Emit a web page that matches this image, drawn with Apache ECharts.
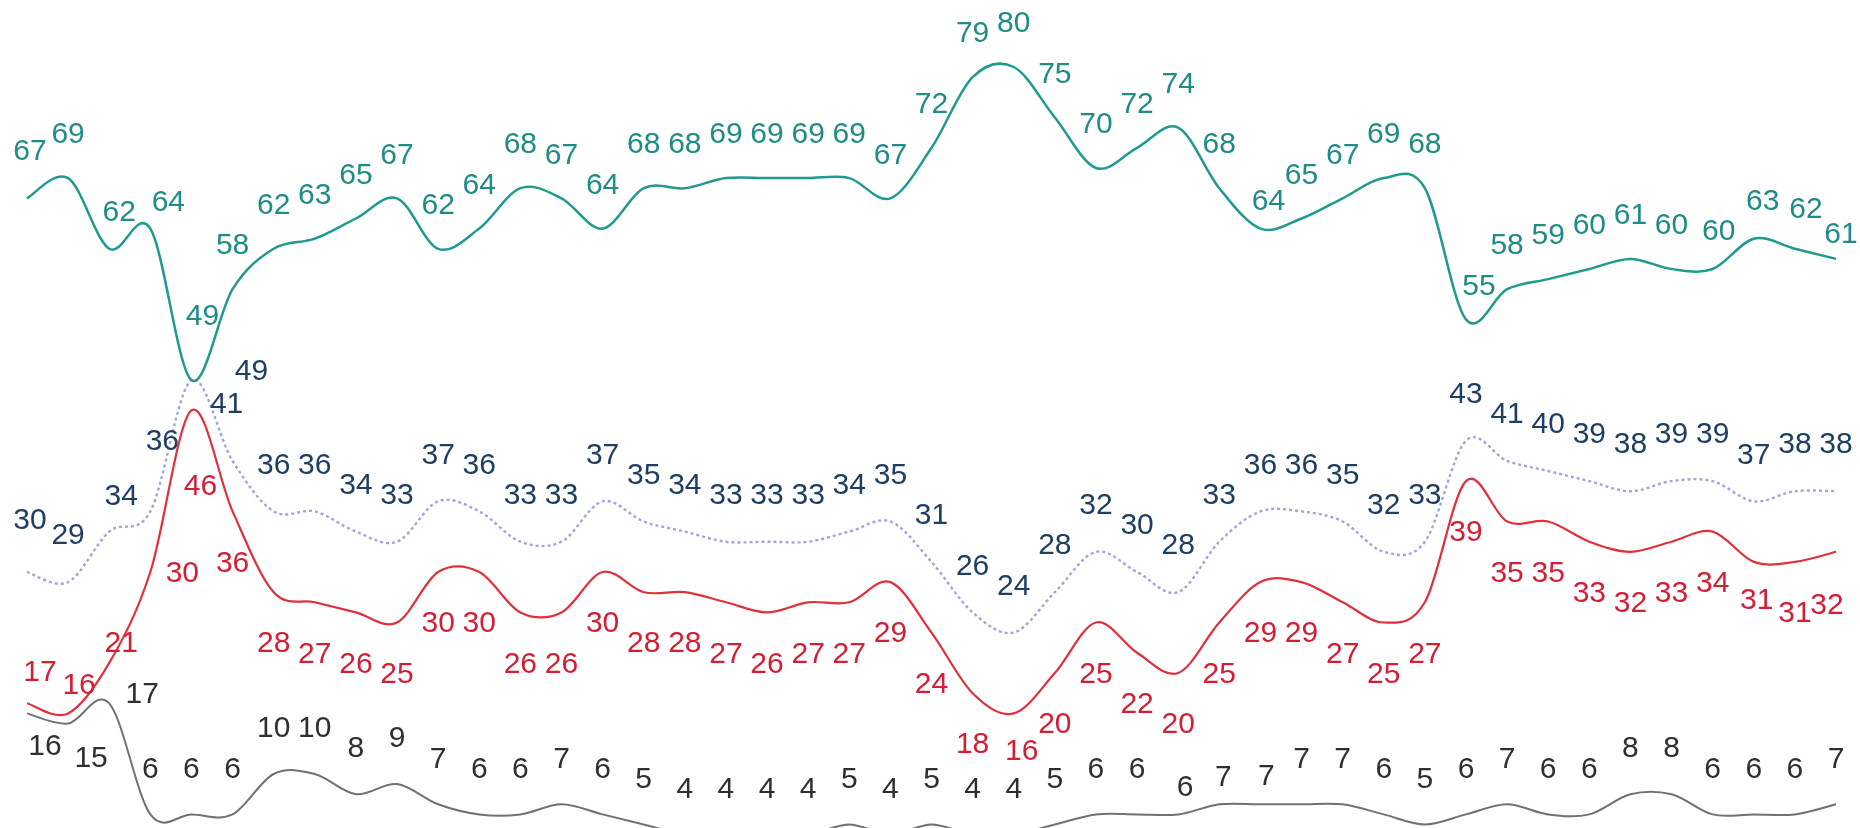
<!DOCTYPE html>
<html>
<head>
<meta charset="utf-8">
<script src="https://cdn.jsdelivr.net/npm/echarts@6/dist/echarts.min.js"></script>
<style>
html,body{margin:0;padding:0;background:#ffffff;}
#chart{width:1860px;height:828px;}
</style>
</head>
<body>
<div id="chart"></div>
<script>
// ---- data ----
const categories = [1,2,3,4,5,6,7,8,9,10,11,12,13,14,15,16,17,18,19,20,21,22,23,24,25,26,27,28,29,30,31,32,33,34,35,36,37,38,39,40,41,42,43,44,45];
const tealValues = [67,69,62,64,49,58,62,63,65,67,62,64,68,67,64,68,68,69,69,69,69,67,72,79,80,75,70,72,74,68,64,65,67,69,68,55,58,59,60,61,60,60,63,62,61];
const blueValues = [30,29,34,36,49,41,36,36,34,33,37,36,33,33,37,35,34,33,33,33,34,35,31,26,24,28,32,30,28,33,36,36,35,32,33,43,41,40,39,38,39,39,37,38,38];
const redValues  = [17,16,21,30,46,36,28,27,26,25,30,30,26,26,30,28,28,27,26,27,27,29,24,18,16,20,25,22,20,25,29,29,27,25,27,39,35,35,33,32,33,34,31,31,32];
const grayValues = [16,15,17,6,6,6,10,10,8,9,7,6,6,7,6,5,4,4,4,4,5,4,5,4,4,5,6,6,6,7,7,7,7,6,5,6,7,6,6,8,8,6,6,6,7];

// ---- label placement (styling only) ----
const tealLabelDefault = [0,-43];
const tealLabelShift = {0:[3,-47],2:[10,-36],3:[18,-26],4:[11,-63],30:[8,-27],35:[13,-33],41:[6,-37],42:[9,-37],43:[11,-39],44:[5,-24]};
const blueLabelDefault = [0,-46];
const blueLabelShift = {0:[3,-51],2:[12,-35],3:[12,-70],4:[60,-8],5:[-6,-56]};
const redLabelDefault = [0,52];
const redLabelShift = {0:[13,-31],1:[11,-28],2:[12,-19],3:[32,2],4:[9,76],24:[8,38],42:[3,39],44:[-9,54]};
const grayLabelDefault = [0,-45];
const grayLabelShift = {0:[18,33],1:[23,35],2:[33,-9],28:[7,-27],29:[4,-27],30:[6,-28]};

const LABEL_FONT = '30px "Liberation Sans", Arial, sans-serif';

function makeRenderer(values, lineColor, width, dash, labelColor, def, shifts) {
  return function (params, api) {
    const i = params.dataIndex;
    const p = api.coord([i, values[i]]);
    const off = shifts[i] || def;
    const children = [];
    if (i === 0) {
      const pts = values.map(function (v, k) { return api.coord([k, v]); });
      let d = 'M' + pts[0][0] + ' ' + pts[0][1];
      for (let k = 0; k < pts.length - 1; k++) {
        const p0 = pts[k - 1] || pts[k];
        const p1 = pts[k];
        const p2 = pts[k + 1];
        const p3 = pts[k + 2] || pts[k + 1];
        const c1x = p1[0] + (p2[0] - p0[0]) / 6;
        const c1y = p1[1] + (p2[1] - p0[1]) / 6;
        const c2x = p2[0] - (p3[0] - p1[0]) / 6;
        const c2y = p2[1] - (p3[1] - p1[1]) / 6;
        d += ' C' + c1x + ' ' + c1y + ' ' + c2x + ' ' + c2y + ' ' + p2[0] + ' ' + p2[1];
      }
      children.push({
        type: 'path',
        shape: {pathData: d},
        style: {fill: 'none', stroke: lineColor, lineWidth: width, lineDash: dash, lineCap: 'butt', lineJoin: 'round'}
      });
    }
    children.push({
      type: 'text',
      x: p[0] + off[0],
      y: p[1] + off[1],
      style: {
        text: String(values[i]),
        fill: labelColor,
        font: LABEL_FONT,
        align: 'center',
        verticalAlign: 'middle'
      }
    });
    return {type: 'group', children: children};
  };
}

function curveSeries(name, values, lineColor, width, dash, labelColor, def, shifts, z) {
  return {
    name: name,
    type: 'custom',
    coordinateSystem: 'cartesian2d',
    clip: false,
    silent: true,
    z: z,
    encode: {x: 0, y: 1},
    data: values.map(function (v, i) { return [i, v]; }),
    renderItem: makeRenderer(values, lineColor, width, dash, labelColor, def, shifts)
  };
}

const chart = echarts.init(document.getElementById('chart'), null, {renderer: 'canvas'});
chart.setOption({
  animation: false,
  backgroundColor: '#ffffff',
  grid: {left: 27, right: 24, top: 67, height: 808, outerBoundsMode: 'none', containLabel: false},
  xAxis: {
    type: 'category',
    data: categories,
    boundaryGap: false,
    show: false
  },
  yAxis: {
    type: 'value',
    min: 0,
    max: 80,
    show: false,
    splitLine: {show: false}
  },
  series: [
    curveSeries('D', grayValues, '#717171', 2, null, '#2f2f2f', grayLabelDefault, grayLabelShift, 1),
    curveSeries('B', blueValues, '#a2a6d6', 2.4, [3, 3], '#1f3e63', blueLabelDefault, blueLabelShift, 2),
    curveSeries('C', redValues, '#e0303c', 2.2, null, '#d21f36', redLabelDefault, redLabelShift, 3),
    curveSeries('A', tealValues, '#1f9a8d', 2.5, null, '#1f8c86', tealLabelDefault, tealLabelShift, 4)
  ]
});
</script>
</body>
</html>
